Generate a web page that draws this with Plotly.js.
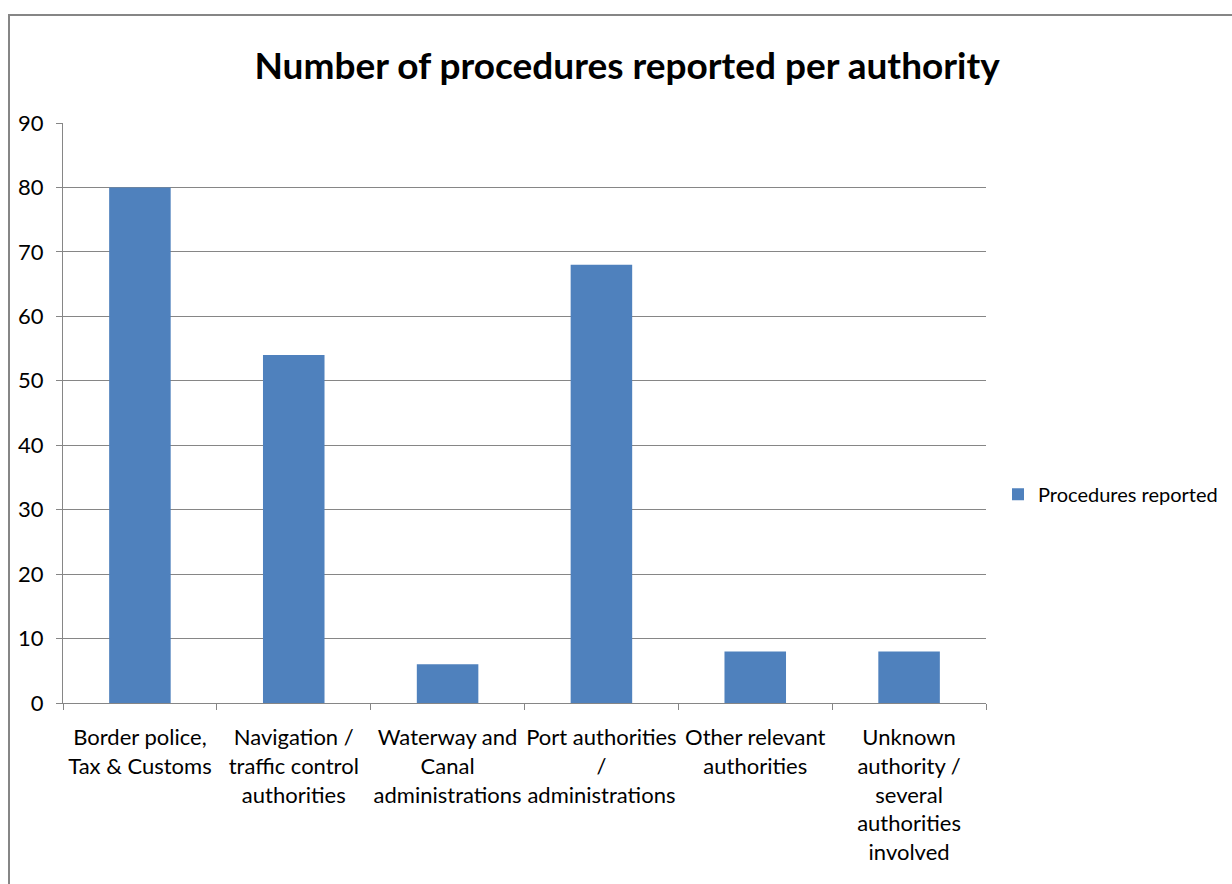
<!DOCTYPE html>
<html>
<head>
<meta charset="utf-8">
<script src="https://cdn.plot.ly/plotly-3.0.1.min.js"></script>
<style>
  html, body { margin: 0; padding: 0; background: #fff; overflow: hidden; }
  #chart { width: 1232px; height: 884px; }
</style>
</head>
<body>
<div id="chart"></div>
<script>
const categories = [
  "Border police,<br>Tax & Customs",
  "Navigation /<br>traffic control<br>authorities",
  "Waterway and<br>Canal<br>administrations",
  "Port authorities<br>/<br>administrations",
  "Other relevant<br>authorities",
  "Unknown<br>authority /<br>several<br>authorities<br>involved"
];
const proceduresReported = [80, 54, 6, 68, 8, 8];
const seriesName = "Procedures reported";
const yTicks = [0, 10, 20, 30, 40, 50, 60, 70, 80, 90];

const FONT = "Lato, 'Open Sans', sans-serif";
const GRAY = "#868686";

const data = [{
  type: "bar",
  x: categories,
  y: proceduresReported,
  name: seriesName,
  marker: { color: "#4F81BD" },
  showlegend: true
}];

const layout = {
  width: 1232,
  height: 884,
  margin: { l: 63, r: 246, t: 123, b: 181, pad: 0, autoexpand: false },
  paper_bgcolor: "#ffffff",
  plot_bgcolor: "#ffffff",
  font: { family: FONT, color: "#000000", size: 21 },
  title: {
    text: "<b>Number of procedures reported per authority</b>",
    font: { family: FONT, size: 37, color: "#000000" },
    x: 0.509, xanchor: "center",
    y: 0.925, yanchor: "middle", yref: "container"
  },
  bargap: 0.6,
  showlegend: true,
  legend: {
    x: 1.013, xanchor: "left",
    y: 0.36, yanchor: "middle",
    font: { family: FONT, size: 20, color: "#000000" },
    bgcolor: "rgba(0,0,0,0)",
    itemwidth: 30
  },
  xaxis: {
    type: "category",
    showline: true, linecolor: GRAY, linewidth: 1,
    ticks: "outside", tickson: "boundaries", ticklen: 6, tickcolor: GRAY, tickwidth: 1,
    tickangle: 0,
    tickfont: { family: FONT, size: 22, color: "#000000" },
    ticklabelstandoff: 15,
    showgrid: false, zeroline: false, fixedrange: true, automargin: false
  },
  yaxis: {
    range: [0, 90],
    tickvals: yTicks,
    ticktext: yTicks.map(String),
    showline: true, linecolor: GRAY, linewidth: 1,
    ticks: "outside", ticklen: 6, tickcolor: GRAY, tickwidth: 1,
    tickfont: { family: FONT, size: 22, color: "#000000" },
    ticklabelstandoff: 8,
    showgrid: true, gridcolor: GRAY, gridwidth: 1,
    zeroline: false, fixedrange: true, automargin: false
  },
  shapes: [{
    type: "rect", xref: "paper", yref: "paper",
    x0: (9 - 63) / 923, x1: 1.6,
    y0: -0.5, y1: (703 - 15) / 580,
    line: { color: GRAY, width: 2 },
    fillcolor: "rgba(0,0,0,0)",
    layer: "below"
  }]
};

Plotly.newPlot("chart", data, layout, { displayModeBar: false, staticPlot: true });
</script>
</body>
</html>
